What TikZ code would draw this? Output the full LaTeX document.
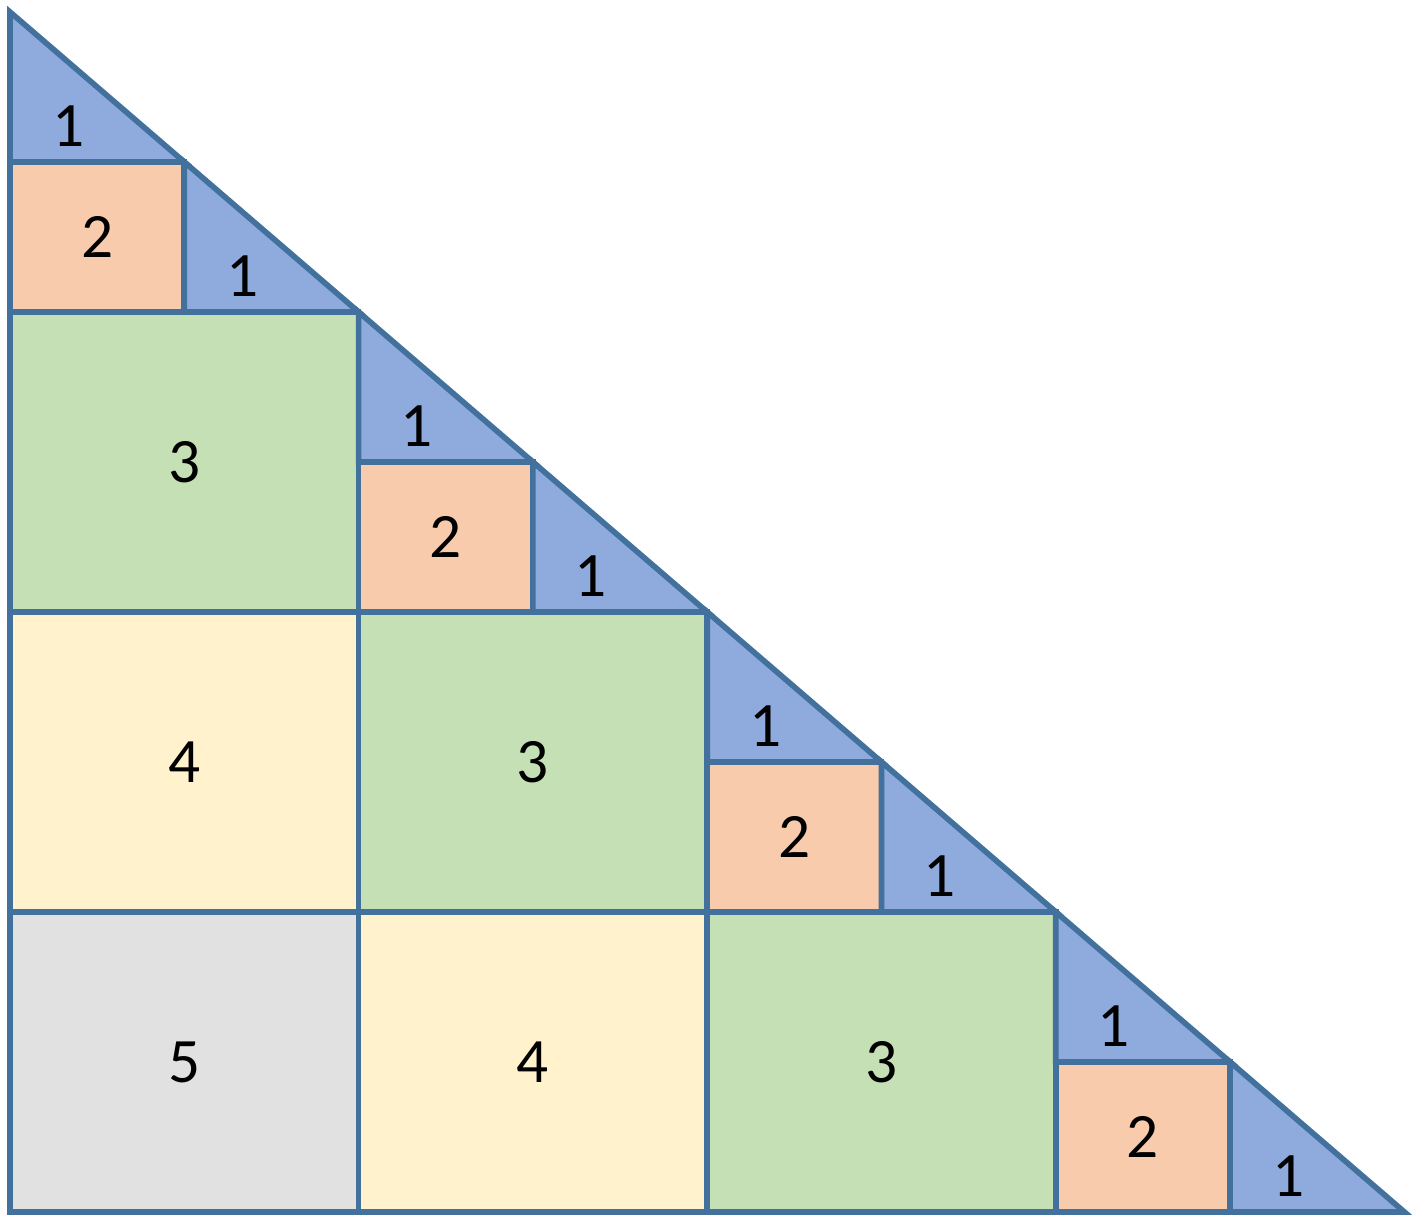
\documentclass[tikz,border=0pt]{standalone}
\usepackage{fontspec}
\setmainfont{Carlito}
\usetikzlibrary{positioning}
\definecolor{edge}{HTML}{41719C}
\definecolor{tri}{HTML}{8FAADC}
\definecolor{peach}{HTML}{F8CBAD}
\definecolor{mint}{HTML}{C5E0B4}
\definecolor{cream}{HTML}{FFF2CC}
\definecolor{ash}{HTML}{E1E1E1}
\tikzset{cell/.style={draw=edge,line width=1.6pt},num/.style={font=\fontsize{18}{20}\selectfont,inner sep=0pt}}
\newcommand{\block}[5]{\filldraw[cell,fill=#3] (#1,#2) rectangle (#1+1,#2+1);\node[num] (#5) at (#1+.5,#2+.5) {#4};}
\newcommand{\corner}[3]{\filldraw[cell,fill=tri] (#1,#2+.5)--(#1,#2)--(#1+.5,#2)--cycle;\node[num] (#3) at (#1+.1667,#2+.12) {1};}
\newcommand{\stair}[3]{\filldraw[cell,fill=peach] (#1,#2) rectangle (#1+.5,#2+.5);\node[num] (#3two) at (#1+.25,#2+.25) {2};
\corner{#1+.5}{#2}{#3low}\corner{#1}{#2+.5}{#3top}}

\begin{document}
\begin{tikzpicture}[x=3.486cm,y=3cm]
\useasboundingbox (-0.0287,-0.0133) rectangle (4.0333,4.04);
\block{0}{0}{ash}{5}{five}\block{1}{0}{cream}{4}{fourb}\block{2}{0}{mint}{3}{threec}
\block{0}{1}{cream}{4}{foura}\block{1}{1}{mint}{3}{threeb}
\block{0}{2}{mint}{3}{threea}
\stair{3}{0}{sd}\stair{2}{1}{sc}\stair{1}{2}{sb}\stair{0}{3}{sa}
\end{tikzpicture}
\end{document}
